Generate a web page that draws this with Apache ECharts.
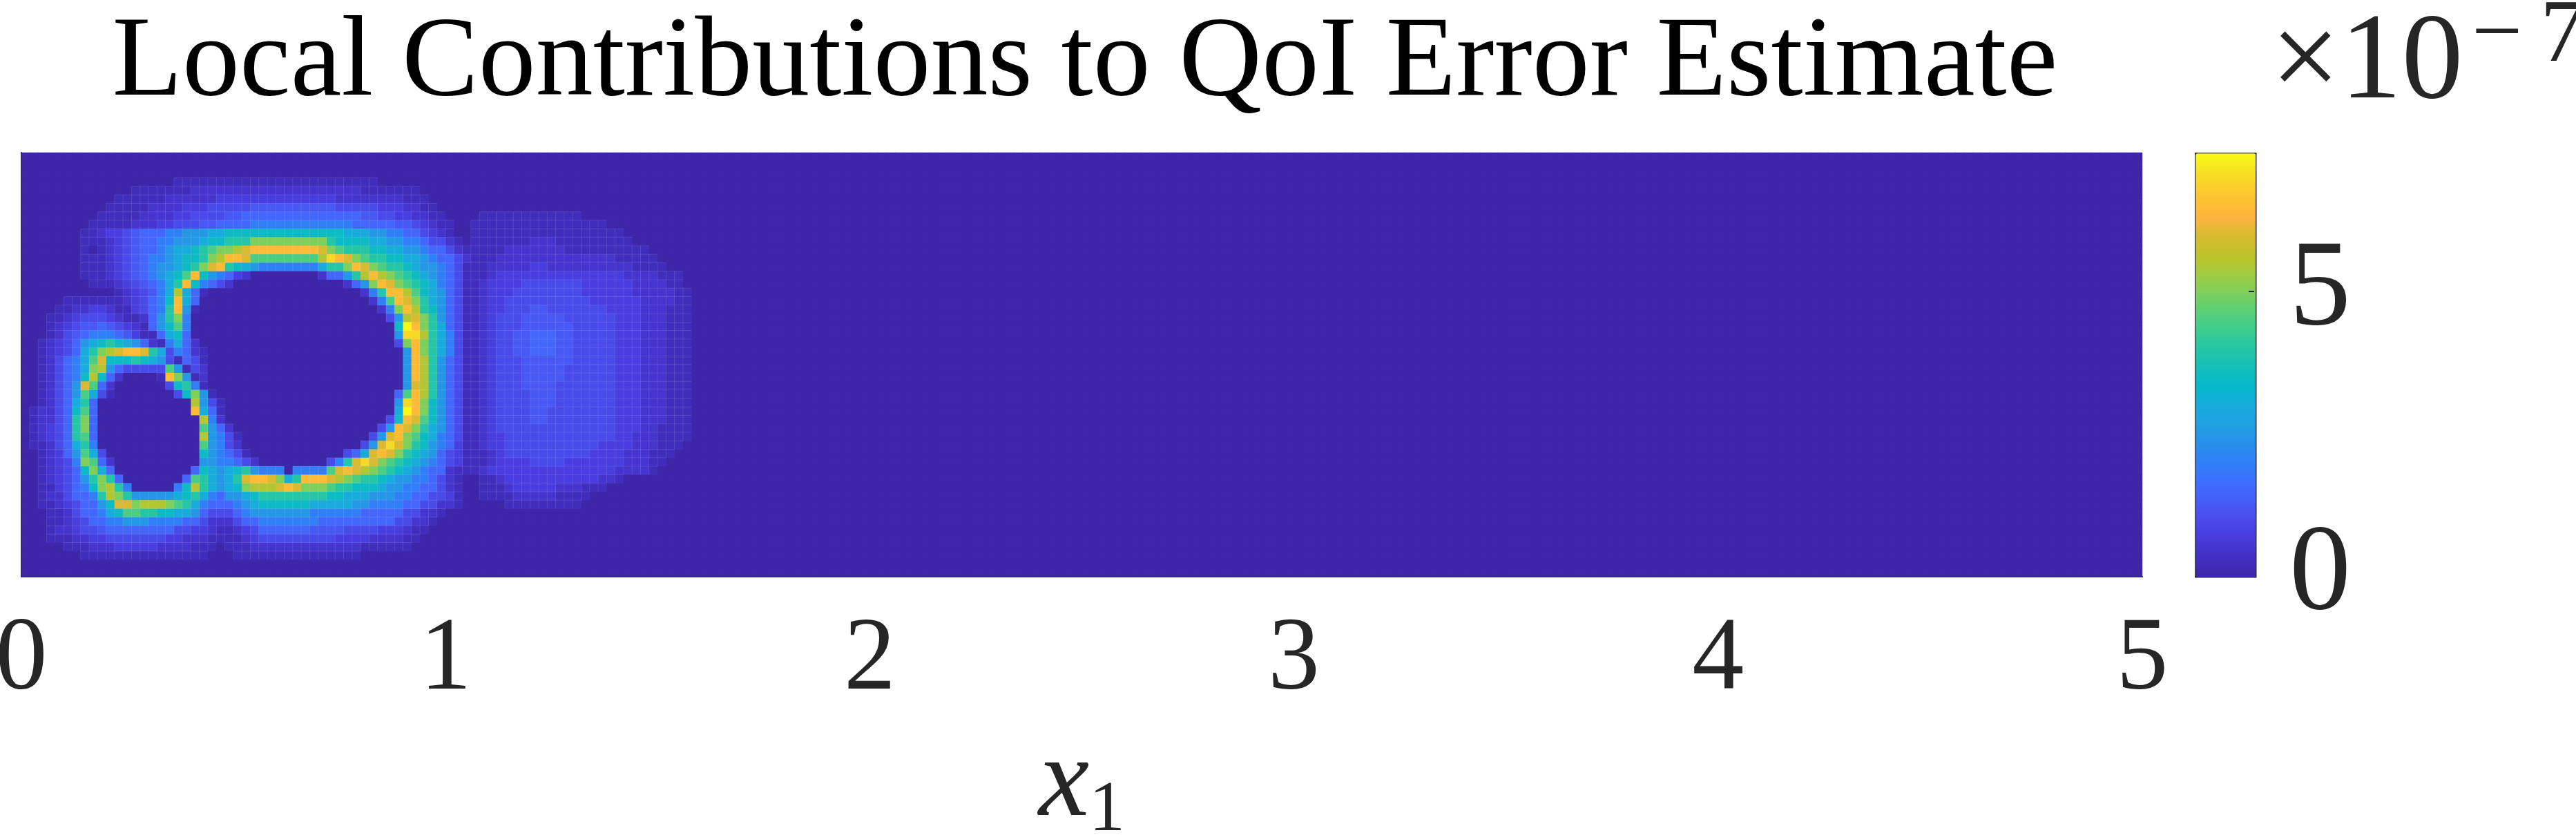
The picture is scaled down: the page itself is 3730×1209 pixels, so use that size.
<!DOCTYPE html>
<html>
<head>
<meta charset="utf-8">
<style>html,body{margin:0;padding:0;background:#fff}#c{width:3730px;height:1209px}</style>
<script src="https://cdn.jsdelivr.net/npm/echarts@6/dist/echarts.min.js"></script>
</head>
<body>
<div id="c"></div>
<script>
const titleText = 'Local Contributions to QoI Error Estimate';
const xTickLabels = ['0', '1', '2', '3', '4', '5'];
const colorMax = 7.44;            // top of the colour bar, in units of 1e-7
const colorbarInterval = 5;
const colorbarTickValue = 5;
const domainCols = 250;           // 5 / 0.02
const domainRows = 50;            // 1 / 0.02
const parula = ['#3e26a8','#4330c5','#483ee0','#4a50ef','#4365fd','#3578fa','#2a8af0','#229ce3','#18abdc','#06b7cc','#14c0b6','#2ac89f','#46ce88','#6dd066','#95cd4c','#bac52c','#d4bb2f','#fdb53c','#ffc430','#f7dd25','#f9fb15'];
// Cell code -> value in units of 1e-7
const levelValues = {'0':0,x:0.25,'1':0.5,y:0.75,'2':1,z:1.25,'3':1.5,'4':2,'5':2.5,'6':3,'7':3.5,'8':4,'9':4.5,a:5,b:5.5,c:6,d:6.5,e:7,f:7.4};
// Values, one string per mesh row from the top, one code per 0.02-wide cell.
// Cells that are not listed at the right of a row are 0.
const meshRows = [
'',
'',
'',
'0000000000 00000000xx xxxxxxxxxx xxxxxxxxxx xx',
'0000000000 000xxxxxxx 1111111111 1111111111 xxxxxxx',
'0000000000 0xxxxxx111 111yyyyyyy yyyyyyy111 11111xxx',
'0000000000 xxxxx1111y yy22222zzz zzzzzzz222 22yyy11xx',
'000000000x xxxx1111yy 2222zz3333 3333333333 zz22yy11xx 0000xxxxxx xxxxxx',
'00000000xx xxx111yy22 2zz3333444 4444444443 3333zz2y1x x00xxxxxxx xxxxxxxxx',
'0000000xx1 yy2z333445 5566777777 7777777766 65544332y1 x00xxxxxxx xxxxxxxxxx x',
'0000000xxx 1y2z334455 5677888aaa aaaaaa8777 7665544322 1x0xxxxxxx 111xxxxxxx xx',
'0000000x0x 1y2z334566 789aabcddd dddddca988 8776655433 21xxxxx111 1111xxxxxx xxxx',
'0000000xxx 1y2z344567 78abddc999 99999bedca 9887766543 321xxx1111 1111111111 xxxxx',
'0000000xxx 1y2z345567 8acd876544 444446 88ad ca98876554 32xxx11111 yy11111111 11xxxx',
'0000000xxx 1y2z345679 d7543y1000 0000013358 bdba987654 32xxx1yyyy yyyyyyyyyy y1111xxx',
'00000000xx x1y2z3468d 7432100000 0000000013 5adca98764 32xx1yyyy2 222222yyyy yy1111xx',
'0000000000 0x1y2z46b6 3x00000000 0000000000 148ddb9765 32xx1yyy22 222222yyyy yy11111xx',
'00000xxxxx xx1y2347d6 3000000000 0000000000 0149dca865 32xx1yy222 2222222yyy yyy1111xx',
'0000xx11yy 1xxy2348d5 x000000000 0000000000 0014adb875 32xx1yy222 zz2222222y yyy111xxx',
'000xx1y222 y1xx1358a4 0000000000 0000000000 00025bca85 32xx1y222z zzzz222222 yyy111xxx',
'000x1y2zz3 z2y1x35794 0000000000 0000000000 00007fda86 32xx1y222z zzzzz22222 yyy111xxx',
'000x12z344 43zyxx3673 0000000000 0000000000 00005eeb86 42xx1y22zz 333zz22222 yyy111xxx',
'00x1y23567 87653 1x463 1000000000 0000000000 00002ada86 42xx1y22zz 333zz22222 yyy111xxx',
'00x1y2368a bcddc86243 1x00000000 0000000000 000005da86 42xx1y22zz 333zz22222 yyy111xxx',
'00x123469c 77787652x3 2x00000000 0000000000 000005db85 32xx1y222z zzzzz22222 yyy111xxx',
'00x12346ab 532222295x 2100000000 0000000000 000005db85 32xx1y222z zzzz222222 yyy111xxx',
'00x12347b7 310000xda5 x100000000 0000000000 000005db85 32xx1y222z zzzz222222 yyy111xxx',
'00x1235c93 1000000278 4x00000000 0000000000 000005cb85 32xx1y222z zzz2222222 yyy111xxx',
'00x1235962 x000000027 a5x0000000 0000000000 000039db85 32xx1y2222 zzz2222222 yyy111xxx',
'00x1236830 0000000000 b52x000000 0000000000 00005eda75 32xx1y2222 zzz2222222 yyy111xxx',
'0x11237930 0000000000 d63x000000 0000000000 00006fda75 32xx1y2222 zz22222222 yyy111xxx',
'0x11238a30 0000000000 0b41000000 0000000000 00027dc975 32xx1y2222 zz22222222 yyy111xxx',
'0x1y238a30 0000000000 0953100000 0000000000 0025dca865 32xx1y2222 2222222222 yyy11xxxx',
'0x1y238930 0000000000 0b542x0000 0000000000 025cda9764 32xx1yy222 2222222222 yy111xxxx',
'0xx1236840 0000000000 0954210000 0000000000 25ceca8754 3yxx1yy222 22222222yy yy111xxx',
'00x1y35962 0000000000 07543 2x000 0000000023 6cdca87653 2yxxx1y222 2222222yyy y111xxx',
'00x1y24a93 1000000000 0554432100 000000248c eca9876543 2yxxx1yyyy 2222yyyyyy y111xx',
'00x1y237a6 3000000000 3765678544 4044449cdc ba98765433 1xxx1yyyyy yyyyyyyyyy 1111x',
'00x1y2358a 8300000003 986568cddc a68dddcba9 8876554432 1x00xx1yyy yyyyyyyy11 x',
'00xxy2347a b840000047 b86567abbb cdcaaa9887 7765544332 1x00xxx1yy yyy111xxx0',
'00x1123348 ba85555567 8643556788 8888887766 6555443322 yx00xxxx11 111xxxx',
'00xx1y2335 7ccabbba98 6433345677 7777666665 5444433221 1x00000xxx xxxxxx',
'000xx12334 6799887766 5322234555 5555444444 33333 2211x',
'000xx1y233 4455544443 3211123344 4444433333 33332211x',
'000x11y22z 3333333322 yy1xx1y233 3333zzzz22 22yyy1xx',
'000xxx11yy 2222222yy1 11xxxx1y22 2222222yyy y1111xx',
'00000xxx11 1yyyyy1111 xxx0xxx111 1111111111 xxxxxx',
'0000000xxx xxxxxxxxxx xx000xxxxx xxxxxxxxxx',
'',
''
];

const xCats = [];
for (let c = 0; c < domainCols; c++) xCats.push(String(0.01 + c * 0.02));
const yCats = [];
for (let r = 0; r < domainRows; r++) yCats.push(String(r));
// The reference shows a faint pale seam round every non-zero mesh cell.
const seam = {borderColor: 'rgba(255,255,255,0.11)', borderWidth: 1};
const cells = [];
meshRows.forEach(function (row, r) {
  const codes = row.replace(/ /g, '');
  for (let c = 0; c < domainCols; c++) {
    const v = levelValues[c < codes.length ? codes[c] : '0'];
    cells.push(v > 0 ? {value: [c, r, v], itemStyle: seam} : {value: [c, r, v]});
  }
});

const ink = '#262626';
const serif = '"Liberation Serif", serif';
const chart = echarts.init(document.getElementById('c'), null, {renderer: 'canvas'});
chart.setOption({
  animation: false,
  backgroundColor: '#ffffff',
  title: [
    {text: titleText, left: 1566, top: 5, textAlign: 'center', textStyle: {fontFamily: serif, fontWeight: 'normal', fontSize: 166, color: '#000'}},
    {text: '×10', left: 3283, top: 0, textStyle: {fontFamily: serif, fontWeight: 'normal', fontSize: 178, color: ink}},
    {text: '−\u20097', left: 3574, top: -16, textStyle: {fontFamily: serif, fontWeight: 'normal', fontSize: 130, color: ink}}
  ],
  grid: [
    {left: 31, top: 221, width: 3071, height: 614, show: true, backgroundColor: '#3e26a8', borderWidth: 0, outerBoundsMode: 'none', containLabel: false},
    {left: 3178, top: 221, width: 87, height: 613, show: false, outerBoundsMode: 'none', containLabel: false}
  ],
  xAxis: [
    {type: 'category', gridIndex: 0, data: xCats, show: false},
    {type: 'value', gridIndex: 0, min: 0, max: 5, interval: 1, position: 'bottom',
     splitLine: {show: false},
     axisLine: {show: true, onZero: false, lineStyle: {color: ink, width: 2}},
     axisTick: {show: false},
     axisLabel: {margin: 48, fontFamily: serif, fontSize: 150, color: ink, formatter: function (v) { return xTickLabels[v]; }},
     name: '{i|x}{s|1}', nameLocation: 'middle', nameGap: 219,
     nameTextStyle: {rich: {
       i: {fontFamily: serif, fontStyle: 'italic', fontSize: 165, color: ink, padding: [0, 0, 8, 0]},
       s: {fontFamily: serif, fontSize: 104, color: ink, verticalAlign: 'bottom'}
     }}},
    {type: 'value', gridIndex: 1, min: 0, max: 1, show: false}
  ],
  yAxis: [
    {type: 'category', gridIndex: 0, data: yCats, inverse: true,
     axisLine: {show: true, lineStyle: {color: ink, width: 2}}, axisTick: {show: false}, axisLabel: {show: false}, splitLine: {show: false}},
    {type: 'value', gridIndex: 1, min: 0, max: colorMax, interval: colorbarInterval, position: 'right', splitLine: {show: false},
     axisLine: {show: false},
     axisTick: {show: false},
     axisLabel: {margin: 50, fontFamily: serif, fontSize: 178, color: ink, showMaxLabel: false, padding: [0, 0, 26, 0]}}
  ],
  visualMap: {
    type: 'continuous', seriesIndex: 0, dimension: 2, min: 0, max: colorMax,
    left: 3178, top: 221, itemWidth: 87, itemHeight: 613, padding: 0,
    orient: 'vertical', calculable: false, realtime: false, hoverLink: false, text: null,
    borderColor: ink, borderWidth: 2.5,
    inRange: {color: parula}
  },
  series: [{
    type: 'heatmap', xAxisIndex: 0, yAxisIndex: 0, data: cells,
    progressive: 0, silent: true, emphasis: {disabled: true}
  }]
});
// Short inward tick on the colour bar, placed through the bar's own axis scale.
const tickY = chart.convertToPixel({yAxisIndex: 1}, colorbarTickValue);
chart.setOption({graphic: [{type: 'line', z: 20, shape: {x1: 3256, y1: tickY, x2: 3264, y2: tickY}, style: {stroke: ink, lineWidth: 2}}]});
</script>
</body>
</html>
